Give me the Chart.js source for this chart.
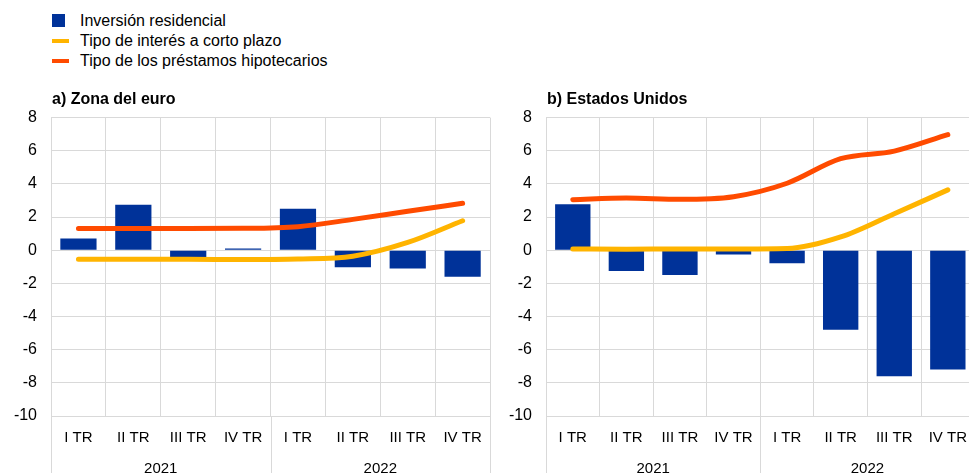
<!DOCTYPE html>
<html lang="es">
  <head>
    <meta charset="UTF-8" />
    <title>Inversión residencial y tipos de interés</title>
    <script src="https://cdn.jsdelivr.net/npm/chart.js"></script>
    <style>
      html, body { margin: 0; padding: 0; width: 969px; height: 473px; overflow: hidden; background: #fff; }
      body { font-family: 'Liberation Sans', Arial, sans-serif; color: #000; position: relative; }
      .legend { position: absolute; left: 52px; top: 11px; font-size: 16px; }
      .legend div { position: relative; height: 20px; line-height: 20px; padding-left: 28px; }
      .legend span { position: absolute; left: 0; }
      .title { position: absolute; top: 90px; font-size: 16px; font-weight: bold; }
      .panel { position: absolute; top: 94px; height: 384px; }
    </style>
  </head>
  <body>
    <div class="legend" id="legend"></div>

    <div class="panel" style="left: 0; width: 495px"><canvas id="euroChart"></canvas></div>
    <div class="panel" style="left: 495px; width: 485px"><canvas id="usChart"></canvas></div>

    <div class="title" style="left: 52px">a) Zona del euro</div>
    <div class="title" style="left: 547px">b) Estados Unidos</div>

    <script>
      // datos
      const quarters = ['I TR', 'II TR', 'III TR', 'IV TR', 'I TR', 'II TR', 'III TR', 'IV TR']
      const years = ['2021', '2022']
      const seriesNames = ['Inversión residencial', 'Tipo de interés a corto plazo', 'Tipo de los préstamos hipotecarios']

      const euroInvestment = [0.7, 2.75, -0.42, 0.1, 2.5, -1.03, -1.1, -1.6]
      const euroShortRate = [-0.55, -0.55, -0.55, -0.56, -0.53, -0.36, 0.47, 1.78]
      const euroMortgage = [1.31, 1.31, 1.31, 1.32, 1.42, 1.86, 2.35, 2.83]

      const usInvestment = [2.77, -1.25, -1.5, -0.26, -0.79, -4.8, -7.6, -7.2]
      const usShortRate = [0.08, 0.06, 0.08, 0.07, 0.1, 0.8, 2.2, 3.64]
      const usMortgage = [3.05, 3.15, 3.07, 3.23, 4.04, 5.52, 5.98, 6.97]

      const yTicks = { min: -10, max: 8, step: 2 }

      const blue = '#003299'
      const yellow = '#ffb400'
      const orange = '#ff4b00'
      const gridColor = '#d9d9d9'
      const font = "'Liberation Sans', Arial, sans-serif"

      // leyenda
      const legend = document.getElementById('legend')
      const markers = [
        `<span style="top:3px;width:13px;height:13px;background:${blue}"></span>`,
        `<span style="top:8px;width:17px;height:4px;background:${yellow}"></span>`,
        `<span style="top:8px;width:17px;height:4px;background:${orange}"></span>`,
      ]
      seriesNames.forEach((name, i) => {
        legend.innerHTML += `<div>${markers[i]}${name}</div>`
      })

      // líneas verticales bajo el eje que separan los años
      const yearSeparators = {
        id: 'yearSeparators',
        afterDraw(chart) {
          const x = chart.scales.x
          const area = chart.chartArea
          const ctx = chart.ctx
          const half = quarters.length / 2
          ctx.save()
          ctx.strokeStyle = gridColor
          ctx.lineWidth = 1
          ;[-0.5, half - 0.5, quarters.length - 0.5].forEach((v) => {
            const px = Math.round(x.getPixelForValue(v)) + 0.5
            ctx.beginPath()
            ctx.moveTo(px, area.bottom)
            ctx.lineTo(px, chart.height)
            ctx.stroke()
          })
          ctx.restore()
        },
      }

      function makeChart(id, investment, shortRate, mortgage, padRight) {
        const ctx = document.getElementById(id).getContext('2d')
        return new Chart(ctx, {
          type: 'bar',
          data: {
            labels: quarters,
            datasets: [
              {
                type: 'line',
                label: seriesNames[2],
                data: mortgage,
                borderColor: orange,
                borderWidth: 5,
                borderCapStyle: 'round',
                pointRadius: 0,
                cubicInterpolationMode: 'monotone',
                xAxisID: 'x',
                order: 0,
              },
              {
                type: 'line',
                label: seriesNames[1],
                data: shortRate,
                borderColor: yellow,
                borderWidth: 5,
                borderCapStyle: 'round',
                pointRadius: 0,
                cubicInterpolationMode: 'monotone',
                xAxisID: 'x',
                order: 1,
              },
              {
                label: seriesNames[0],
                data: investment,
                backgroundColor: blue,
                categoryPercentage: 1,
                barPercentage: 0.66,
                xAxisID: 'x',
                order: 2,
              },
            ],
          },
          options: {
            responsive: true,
            maintainAspectRatio: false,
            animation: false,
            layout: { padding: { top: 2, right: padRight, left: 0, bottom: 0 } },
            plugins: { legend: { display: false }, tooltip: { enabled: false } },
            scales: {
              x: {
                offset: true,
                grid: { offset: true, color: gridColor, drawTicks: false },
                border: { color: gridColor },
                ticks: { color: '#000', padding: 13, font: { family: font, size: 15 }, maxRotation: 0, autoSkip: false },
              },
              x2: {
                type: 'category',
                labels: years,
                position: 'bottom',
                offset: true,
                grid: { display: false, drawTicks: false },
                border: { display: false },
                ticks: { color: '#000', padding: 0, font: { family: font, size: 15 }, maxRotation: 0 },
              },
              y: {
                min: yTicks.min,
                max: yTicks.max,
                ticks: { stepSize: yTicks.step, color: '#000', padding: 14, font: { family: font, size: 16 } },
                grid: { color: gridColor, drawTicks: false },
                border: { color: gridColor },
                afterFit(scale) {
                  scale.width = 51
                },
              },
            },
          },
          plugins: [yearSeparators],
        })
      }

      makeChart('euroChart', euroInvestment, euroShortRate, euroMortgage, 3.5)
      makeChart('usChart', usInvestment, usShortRate, usMortgage, 0)
    </script>
  </body>
</html>
